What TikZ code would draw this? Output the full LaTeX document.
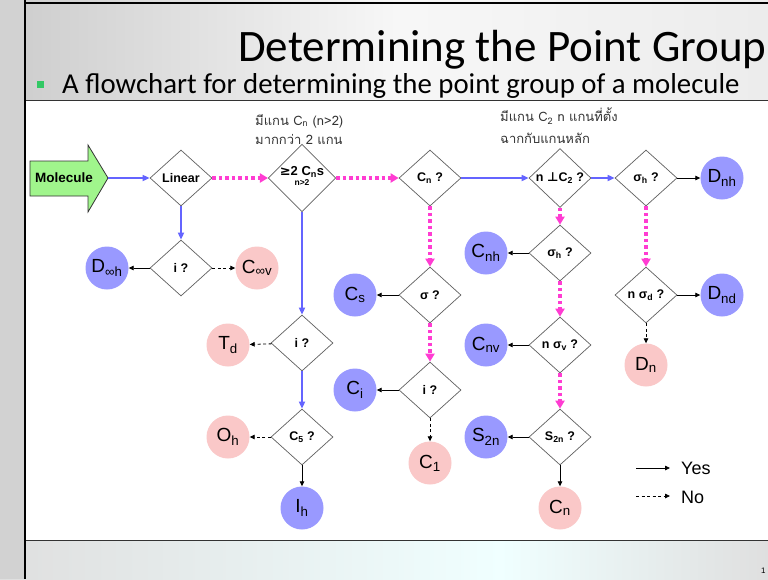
\documentclass[tikz,border=0pt]{standalone}
\usepackage{fontspec}
\setmainfont{Liberation Sans}
\newfontfamily\titlefont{Carlito}
\newfontfamily\thaifont[Script=Thai]{Loma}
\newfontfamily\symfont{DejaVu Sans}
\usetikzlibrary{arrows.meta,shapes.geometric}
\definecolor{cblue}{RGB}{153,153,255}
\definecolor{cpink}{RGB}{250,200,200}
\definecolor{lblue}{RGB}{100,100,255}
\definecolor{mag}{RGB}{255,60,210}
\definecolor{cgreen}{RGB}{160,245,140}
\definecolor{bgreen}{RGB}{50,200,100}
\tikzset{
  dia/.style={diamond, draw=gray!75!black, line width=0.7pt, fill=white, minimum width=62pt, minimum height=56pt, inner sep=0pt, font=\bfseries\fontsize{12.5}{13}\selectfont},
  cb/.style={circle, fill=cblue, minimum size=43pt, inner sep=0pt, font=\fontsize{19}{20}\selectfont},
  cp/.style={circle, fill=cpink, minimum size=43pt, inner sep=0pt, font=\fontsize{19}{20}\selectfont},
  yesblue/.style={draw=lblue, line width=1.6pt, -{Triangle[length=7pt,width=6pt]}},
  nomag/.style={draw=mag, line width=3.2pt, dash pattern=on 3.5pt off 3pt, -{Triangle[length=8pt,width=9pt]}},
  yesblk/.style={draw=black, line width=0.8pt, -{Triangle[length=5pt,width=4.5pt]}},
  noblk/.style={draw=black, line width=0.8pt, dash pattern=on 3pt off 2.5pt, -{Triangle[length=5pt,width=4.5pt]}},
  thai/.style={anchor=west, inner sep=0pt, text=black!80, font=\thaifont\fontsize{13}{14}\selectfont}
}
\begin{document}
\begin{tikzpicture}[x=1pt,y=-1pt]
\useasboundingbox (0,0) rectangle (768,579);
% background
\shade[left color=gray!40, right color=gray!6] (0,0) rectangle (400,100);
\shade[left color=gray!6, right color=gray!15] (400,0) rectangle (768,100);
\shade[left color=gray!25, right color=cyan!6] (0,540) rectangle (500,579);
\shade[left color=cyan!6, right color=gray!25] (500,540) rectangle (768,579);
\fill[gray!35] (0,0) rectangle (25,579);
\fill[white] (25,100) rectangle (768,540);
\draw[black!80, line width=1pt] (25,100) -- (768,100);
\draw[black!80, line width=1pt] (25,540) -- (768,540);
\draw[black, line width=1.2pt] (25,3) -- (768,3);
\draw[black, line width=1.5pt] (25,0) -- (25,579);
% title
\node[anchor=base west, inner sep=0pt] (title) at (238,61) {\titlefont\fontsize{45}{47}\selectfont Determining the Point Group};
\fill[bgreen] (37,81) rectangle (44,88);
\node[anchor=base west, inner sep=0pt] (sub) at (62,93) {\titlefont\fontsize{28.8}{30}\selectfont A flowchart for determining the point group of a molecule};
\node[anchor=west, inner sep=0pt] (pg) at (761,571) {\fontsize{8}{8}\selectfont 1};
% thai notes
\node[thai] (t1) at (255,121) {มีแกน C\textsubscript{n} (n>2)};
\node[thai] (t2) at (255,139) {มากกว่า 2 แกน};
\node[thai] (t3) at (500,116) {มีแกน C\textsubscript{2} n แกนที่ตั้ง};
\node[thai] (t4) at (500,138) {ฉากกับแกนหลัก};
% molecule arrow
\filldraw[fill=cgreen, draw=black!80, line width=0.8pt] (30,161) -- (88,161) -- (88,145) -- (108,178) -- (88,212) -- (88,196) -- (30,196) -- cycle;
\node[font=\bfseries\fontsize{13.5}{14}\selectfont, inner sep=0pt] (mol) at (64,178) {Molecule};
\coordinate (moltip) at (108,178);
% diamonds
\node[dia] (lin) at (181,178) {Linear};
\node[dia] (two) at (302,178) {\begin{tabular}{@{}c@{}}{\fontsize{13}{13}\selectfont{\symfont\bfseries ≥}2 C\textsubscript{n}s}\\[-3pt]{\fontsize{8.5}{9}\selectfont n>2}\end{tabular}};
\node[dia] (cnq) at (430,178) {C\textsubscript{n} ?};
\node[dia] (perp) at (560,178) {n {\symfont\bfseries ⊥}C\textsubscript{2} ?};
\node[dia] (sh1) at (646,178) {σ\textsubscript{h} ?};
\node[dia] (i1) at (181,268) {i ?};
\node[dia] (sig) at (430,295) {σ ?};
\node[dia] (sh2) at (560,253) {σ\textsubscript{h} ?};
\node[dia] (sd) at (646,295) {n σ\textsubscript{d} ?};
\node[dia] (i2) at (302,343) {i ?};
\node[dia] (sv) at (560,345) {n σ\textsubscript{v} ?};
\node[dia] (i3) at (430,390) {i ?};
\node[dia] (c5) at (302,437) {C\textsubscript{5} ?};
\node[dia] (s2q) at (560,437) {S\textsubscript{2n} ?};
% circles
\node[cb] (dnh) at (722,178) {D\textsubscript{nh}};
\node[cb] (dih) at (107,268) {D\textsubscript{∞h}};
\node[cp] (civ) at (257,268) {C\textsubscript{∞v}};
\node[cb] (cs) at (355,295) {C\textsubscript{s}};
\node[cb] (cnh) at (486,253) {C\textsubscript{nh}};
\node[cb] (dnd) at (722,295) {D\textsubscript{nd}};
\node[cp] (td) at (228,345) {T\textsubscript{d}};
\node[cb] (cnv) at (486,345) {C\textsubscript{nv}};
\node[cp] (dn) at (646,365) {D\textsubscript{n}};
\node[cb] (ci) at (355,390) {C\textsubscript{i}};
\node[cp] (oh) at (228,437) {O\textsubscript{h}};
\node[cb] (s2n) at (486,437) {S\textsubscript{2n}};
\node[cp] (c1) at (430,463) {C\textsubscript{1}};
\node[cb] (ih) at (302,508) {I\textsubscript{h}};
\node[cp] (cn) at (560,508) {C\textsubscript{n}};
% connectors
\draw[yesblue] (moltip) -- (lin);
\draw[nomag] (lin) -- (two);
\draw[nomag] (two) -- (cnq);
\draw[yesblue] (cnq) -- (perp);
\draw[yesblue] (perp) -- (sh1);
\draw[yesblk] (sh1) -- (dnh);
\draw[yesblue] (lin) -- (i1);
\draw[yesblk] (i1) -- (dih);
\draw[noblk] (i1) -- (civ);
\draw[yesblue] (two) -- (i2);
\draw[noblk] (i2) -- (td);
\draw[yesblue] (i2) -- (c5);
\draw[noblk] (c5) -- (oh);
\draw[yesblk] (c5) -- (ih);
\draw[nomag] (cnq) -- (sig);
\draw[yesblk] (sig) -- (cs);
\draw[nomag] (sig) -- (i3);
\draw[yesblk] (i3) -- (ci);
\draw[noblk] (i3) -- (c1);
\draw[nomag] (perp) -- (sh2);
\draw[yesblk] (sh2) -- (cnh);
\draw[nomag] (sh2) -- (sv);
\draw[yesblk] (sv) -- (cnv);
\draw[nomag] (sv) -- (s2q);
\draw[yesblk] (s2q) -- (s2n);
\draw[yesblk] (s2q) -- (cn);
\draw[nomag] (sh1) -- (sd);
\draw[yesblk] (sd) -- (dnd);
\draw[noblk] (sd) -- (dn);
% legend
\coordinate (ya) at (636,468);
\coordinate (yb) at (670,468);
\coordinate (na) at (636,496);
\coordinate (nb) at (670,496);
\draw[yesblk] (ya) -- (yb);
\draw[noblk] (na) -- (nb);
\node[anchor=west, inner sep=0pt, font=\fontsize{18}{18}\selectfont] (yes) at (681,468) {Yes};
\node[anchor=west, inner sep=0pt, font=\fontsize{18}{18}\selectfont] (no) at (681,497) {No};
\end{tikzpicture}
\end{document}
